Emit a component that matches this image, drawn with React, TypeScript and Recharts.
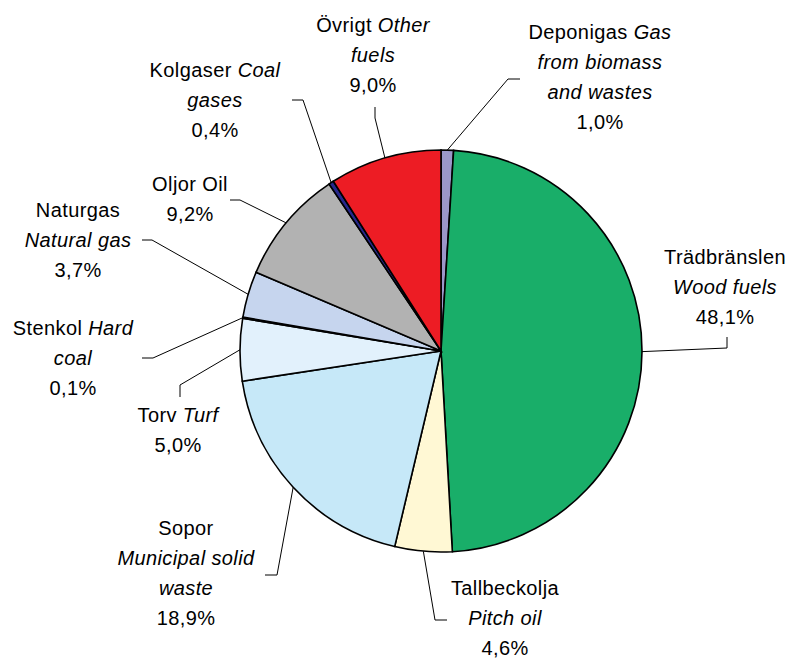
import React from 'react';
import { PieChart, Pie, Cell } from 'recharts';

// Fuel shares, clockwise from 12 o'clock
const SWEDISH = ['Deponigas', 'Trädbränslen', 'Tallbeckolja', 'Sopor', 'Torv', 'Stenkol', 'Naturgas', 'Oljor', 'Kolgaser', 'Övrigt'];
const ENGLISH = ['Gas from biomass and wastes', 'Wood fuels', 'Pitch oil', 'Municipal solid waste', 'Turf', 'Hard coal', 'Natural gas', 'Oil', 'Coal gases', 'Other fuels'];
const SHARES = [1.0, 48.1, 4.6, 18.9, 5.0, 0.1, 3.7, 9.2, 0.4, 9.0];

const COLORS = ['#9b97c9', '#19ae69', '#fff8d4', '#c6e8f8', '#e2f1fc', '#808080', '#c6d5ee', '#b2b2b2', '#27288c', '#ed1c24'];

// label lines: [text, italic]
const LABEL_LINES: [string, boolean][][] = [
  [[['Deponigas ', false], ['Gas', true]], [['from biomass', true]], [['and wastes', true]]],
  [[['Trädbränslen', false]], [['Wood fuels', true]]],
  [[['Tallbeckolja', false]], [['Pitch oil', true]]],
  [[['Sopor', false]], [['Municipal solid', true]], [['waste', true]]],
  [[['Torv ', false], ['Turf', true]]],
  [[['Stenkol ', false], ['Hard', true]], [['coal', true]]],
  [[['Naturgas', false]], [['Natural gas', true]]],
  [[['Oljor Oil', false]]],
  [[['Kolgaser ', false], ['Coal', true]], [['gases', true]]],
  [[['Övrigt ', false], ['Other', true]], [['fuels', true]]],
] as any;

// label placement: text centre x, first line centre y, leader elbow and end
const LABEL_POS = [
  { x: 600, y: 32, elbow: [508, 79], end: [520, 79] },
  { x: 725, y: 257, elbow: [727, 348], end: [727, 337] },
  { x: 505, y: 588, elbow: [435, 620], end: [447, 620] },
  { x: 186, y: 528, elbow: [277, 575], end: [265, 575] },
  { x: 178, y: 415, elbow: [180, 385], end: [180, 397] },
  { x: 73, y: 328, elbow: [153, 358], end: [142, 358] },
  { x: 78, y: 210, elbow: [152, 240], end: [142, 240] },
  { x: 190, y: 184, elbow: [240, 200], end: [230, 200] },
  { x: 215, y: 70, elbow: [303, 100], end: [292, 100] },
  { x: 373, y: 25, elbow: [375, 118], end: [375, 107] },
];

const data = SWEDISH.map((name, i) => ({ name, english: ENGLISH[i], value: SHARES[i] }));

const RAD = Math.PI / 180;
const LINE_H = 30;

const renderLabel = (props: any) => {
  const { cx, cy, midAngle, outerRadius, index, value } = props;
  const pos = LABEL_POS[index];
  const sx = cx + outerRadius * Math.cos(-midAngle * RAD);
  const sy = cy + outerRadius * Math.sin(-midAngle * RAD);
  const lines = LABEL_LINES[index];
  const pct = value.toFixed(1).replace('.', ',') + '%';
  return (
    <g key={`lbl-${index}`}>
      <polyline
        points={`${sx},${sy} ${pos.elbow[0]},${pos.elbow[1]} ${pos.end[0]},${pos.end[1]}`}
        fill="none"
        stroke="#000"
        strokeWidth={1}
      />
      {lines.map((segs, li) => (
        <text
          key={li}
          x={pos.x}
          y={pos.y + li * LINE_H}
          textAnchor="middle"
          dominantBaseline="central"
          fill="#000"
          fontSize={20}
          letterSpacing={0.4}
        >
          {segs.map(([t, it], si) => (
            <tspan key={si} fontStyle={it ? 'italic' : 'normal'}>{t}</tspan>
          ))}
        </text>
      ))}
      <text
        x={pos.x}
        y={pos.y + lines.length * LINE_H}
        textAnchor="middle"
        dominantBaseline="central"
        fill="#000"
        fontSize={20}
        letterSpacing={0.4}
      >
        {pct}
      </text>
    </g>
  );
};

export default function App() {
  return (
    <div style={{ width: 793, height: 658, background: '#fff', fontFamily: '"Liberation Sans", Arial, sans-serif' }}>
      <style>{`body{margin:0}`}</style>
      <PieChart width={793} height={658} margin={{ top: 0, right: 0, bottom: 0, left: 0 }}>
        <Pie
          data={data}
          dataKey="value"
          nameKey="name"
          cx={441}
          cy={351}
          outerRadius={201}
          startAngle={90}
          endAngle={-270}
          stroke="#000"
          strokeWidth={1.6}
          label={renderLabel}
          labelLine={false}
          isAnimationActive={false}
        >
          {data.map((d, i) => (
            <Cell key={`cell-${i}`} fill={COLORS[i]} />
          ))}
        </Pie>
      </PieChart>
    </div>
  );
}
